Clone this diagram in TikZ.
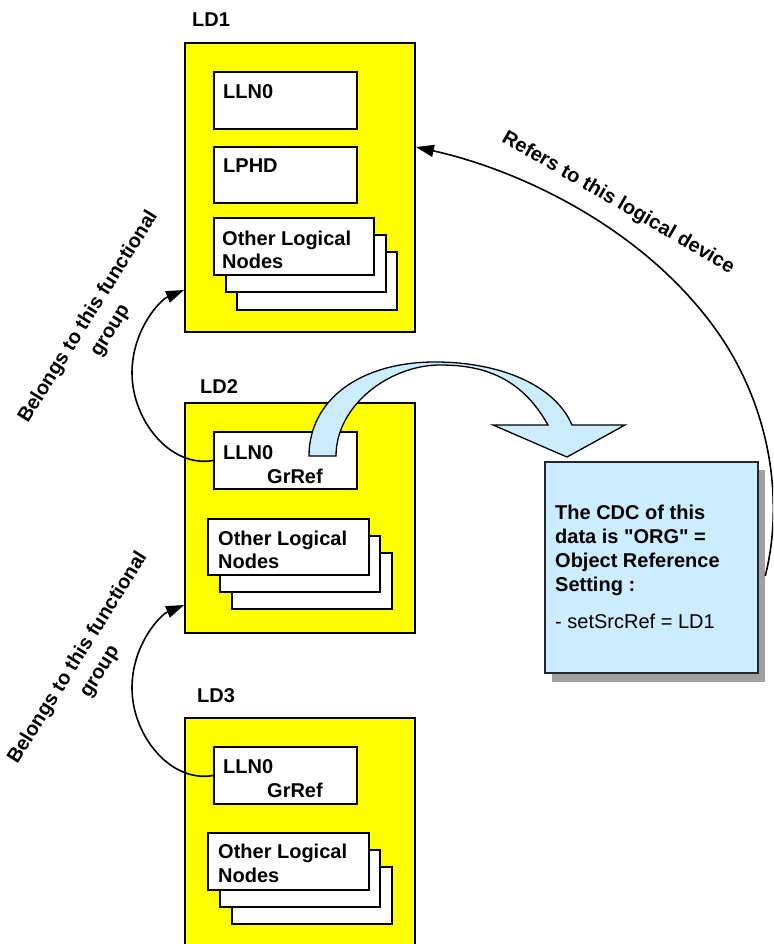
\documentclass[tikz,border=0pt]{standalone}
\usepackage{fontspec}
\setmainfont{Liberation Sans}[Ligatures=TeXOff]
\usetikzlibrary{arrows.meta,fit,calc}
\definecolor{ldyellow}{RGB}{255,255,0}
\definecolor{cdcblue}{RGB}{204,236,255}
\definecolor{shadowgray}{RGB}{160,160,160}
\begin{document}
\begin{tikzpicture}[x=1pt,y=-1pt,
  ldbox/.style={draw=black, fill=ldyellow, line width=1.8pt, inner sep=0pt},
  lnbox/.style={draw=black, fill=white, line width=1.8pt, inner sep=0pt},
  cdcbox/.style={draw=black!85, fill=cdcblue, line width=1.4pt, inner sep=0pt},
  shadowbox/.style={fill=shadowgray, inner sep=0pt},
  lbl/.style={font=\fontsize{20}{23}\selectfont\bfseries, inner sep=0pt, anchor=base west},
  plain/.style={font=\fontsize{20}{23}\selectfont, inner sep=0pt, anchor=base west},
  rotlbl/.style={font=\fontsize{20}{26}\selectfont\bfseries, inner sep=0pt, align=center},
  conn/.style={draw=black, line width=1.6pt, -{Triangle[length=18pt,width=12pt]}},
  blockarrow/.style={draw=black, fill=cdcblue, line width=1.3pt, line join=miter}
]
\useasboundingbox (0,0) rectangle (773,944);
\clip (0,0) rectangle (773,944);

% ---------- LD1 ----------
\node[ldbox, fit={(185,43) (415,332)}] (ld1) {};
\node[lbl] (ld1t) at (192,27) {LD1};
\node[lnbox, fit={(214,72) (357,129)}] (ld1lln) {};
\node[lbl] (ld1llnt) at (223,99) {LLN0};
\node[lnbox, fit={(214,147) (357,203)}] (ld1lphd) {};
\node[lbl] (ld1lphdt) at (223,173) {LPHD};
\node[lnbox, fit={(237,252) (397,310)}] (ld1o3) {};
\node[lnbox, fit={(226,235) (386,292)}] (ld1o2) {};
\node[lnbox, fit={(214,218) (374,275)}] (ld1o1) {};
\node[lbl] (ld1ot1) at (222,245) {Other Logical};
\node[lbl] (ld1ot2) at (222,268) {Nodes};

% ---------- LD2 ----------
\node[ldbox, fit={(185,403) (415,633)}] (ld2) {};
\node[lbl] (ld2t) at (200,393) {LD2};
\node[lnbox, fit={(214,432) (357,489)}] (ld2lln) {};
\node[lbl] (ld2llnt) at (223,459) {LLN0};
\node[lbl] (ld2grt) at (267,483) {GrRef};
\node[lnbox, fit={(232,553) (392,609)}] (ld2o3) {};
\node[lnbox, fit={(220,536) (380,592)}] (ld2o2) {};
\node[lnbox, fit={(208,519) (369,575)}] (ld2o1) {};
\node[lbl] (ld2ot1) at (218,545) {Other Logical};
\node[lbl] (ld2ot2) at (218,568) {Nodes};

% ---------- LD3 ----------
\node[ldbox, fit={(185,718) (415,960)}] (ld3) {};
\node[lbl] (ld3t) at (197,702) {LD3};
\node[lnbox, fit={(214,747) (357,804)}] (ld3lln) {};
\node[lbl] (ld3llnt) at (223,773) {LLN0};
\node[lbl] (ld3grt) at (267,797) {GrRef};
\node[lnbox, fit={(232,867) (392,924)}] (ld3o3) {};
\node[lnbox, fit={(220,850) (380,907)}] (ld3o2) {};
\node[lnbox, fit={(208,833) (369,890)}] (ld3o1) {};
\node[lbl] (ld3ot1) at (218,858) {Other Logical};
\node[lbl] (ld3ot2) at (218,882) {Nodes};

% ---------- CDC box ----------
\node[shadowbox, fit={(552,470) (765,682)}] (cdcshadow) {};
\node[cdcbox, fit={(545,462) (758,673)}] (cdc) {};
\node[lbl] (cdc1) at (555,519) {The CDC of this};
\node[lbl] (cdc2) at (555,543) {data is "ORG" =};
\node[lbl] (cdc3) at (555,567) {Object Reference};
\node[lbl] (cdc4) at (555,591) {Setting :};
\node[plain] (cdc5) at (555,628) {- setSrcRef = LD1};

% ---------- curved block arrow ----------
\draw[blockarrow] (336,456) -- (309,456)
  .. controls (309,400) and (360,362) .. (435,362)
  .. controls (500,362) and (555,385) .. (572,425)
  -- (625,425) -- (567,457) -- (493,425) -- (548,425)
  .. controls (520,375) and (480,365) .. (440,365)
  .. controls (390,365) and (336,405) .. (336,456) -- cycle;

% ---------- connectors ----------
\draw[conn] (ld2lln.west) .. controls (170,468) and (132,420) .. (132,373)
  .. controls (132,330) and (160,300) .. ([yshift=-102.5pt]ld1.west);
\draw[conn] (ld3lln.west) .. controls (170,783) and (132,735) .. (132,688)
  .. controls (132,645) and (160,615) .. ([yshift=-87pt]ld2.west);
\draw[conn] (cdcshadow.east) .. controls (782,510) and (775,420) .. (723,340)
  .. controls (650,230) and (520,170) .. ([yshift=40.5pt]ld1.east);

% ---------- labels ----------
\node[rotlbl, rotate=58] (bel1) at (99.5,324) {Belongs to this functional\\group};
\node[rotlbl, rotate=58] (bel2) at (89,665) {Belongs to this functional\\group};
\node[rotlbl, rotate=-30] (refl) at (618,203) {Refers to this logical device};
\end{tikzpicture}
\end{document}
